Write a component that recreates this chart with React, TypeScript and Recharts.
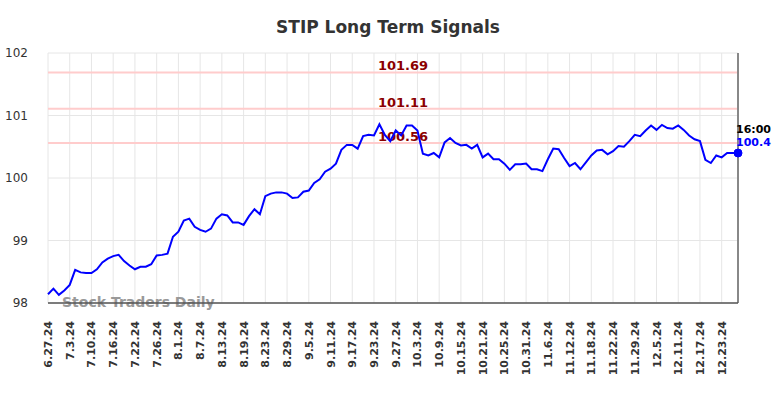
import React from 'react';
import {
  LineChart, Line, XAxis, YAxis, CartesianGrid, ReferenceLine, ReferenceDot, Customized,
} from 'recharts';

const dates = [
  '6.27.24', '6.28.24',
  '7.1.24', '7.2.24', '7.3.24', '7.5.24', '7.8.24', '7.9.24', '7.10.24', '7.11.24', '7.12.24', '7.15.24', '7.16.24',
  '7.17.24', '7.18.24', '7.19.24', '7.22.24', '7.23.24', '7.24.24', '7.25.24', '7.26.24', '7.29.24', '7.30.24', '7.31.24',
  '8.1.24', '8.2.24', '8.5.24', '8.6.24', '8.7.24', '8.8.24', '8.9.24', '8.12.24', '8.13.24', '8.14.24', '8.15.24',
  '8.16.24', '8.19.24', '8.20.24', '8.21.24', '8.22.24', '8.23.24', '8.26.24', '8.27.24', '8.28.24', '8.29.24', '8.30.24',
  '9.3.24', '9.4.24', '9.5.24', '9.6.24', '9.9.24', '9.10.24', '9.11.24', '9.12.24', '9.13.24', '9.16.24', '9.17.24',
  '9.18.24', '9.19.24', '9.20.24', '9.23.24', '9.24.24', '9.25.24', '9.26.24', '9.27.24', '9.30.24',
  '10.1.24', '10.2.24', '10.3.24', '10.4.24', '10.7.24', '10.8.24', '10.9.24', '10.10.24', '10.11.24', '10.14.24',
  '10.15.24', '10.16.24', '10.17.24', '10.18.24', '10.21.24', '10.22.24', '10.23.24', '10.24.24', '10.25.24',
  '10.28.24', '10.29.24', '10.30.24', '10.31.24',
  '11.1.24', '11.4.24', '11.5.24', '11.6.24', '11.7.24', '11.8.24', '11.11.24', '11.12.24', '11.13.24', '11.14.24',
  '11.15.24', '11.18.24', '11.19.24', '11.20.24', '11.21.24', '11.22.24', '11.25.24', '11.26.24', '11.27.24', '11.29.24',
  '12.2.24', '12.3.24', '12.4.24', '12.5.24', '12.6.24', '12.9.24', '12.10.24', '12.11.24', '12.12.24', '12.13.24',
  '12.16.24', '12.17.24', '12.18.24', '12.19.24', '12.20.24', '12.23.24', '12.24.24', '12.26.24', '12.27.24',
];

const prices = [
  98.14, 98.23, 98.13, 98.20, 98.29, 98.53, 98.49, 98.48, 98.48, 98.54,
  98.65, 98.71, 98.75, 98.77, 98.67, 98.60, 98.54, 98.58, 98.58, 98.62,
  98.76, 98.77, 98.79, 99.06, 99.14, 99.32, 99.35, 99.22, 99.17, 99.14,
  99.19, 99.35, 99.42, 99.40, 99.29, 99.29, 99.25, 99.39, 99.50, 99.42,
  99.71, 99.75, 99.77, 99.77, 99.75, 99.68, 99.69, 99.78, 99.80, 99.92,
  99.98, 100.10, 100.15, 100.23, 100.45, 100.53, 100.53, 100.47, 100.67, 100.69,
  100.68, 100.86, 100.69, 100.59, 100.76, 100.68, 100.84, 100.84, 100.76, 100.39,
  100.36, 100.40, 100.33, 100.57, 100.64, 100.56, 100.52, 100.53, 100.47, 100.53,
  100.33, 100.39, 100.30, 100.30, 100.23, 100.13, 100.22, 100.22, 100.23, 100.14,
  100.14, 100.11, 100.30, 100.47, 100.46, 100.32, 100.19, 100.24, 100.14, 100.25,
  100.36, 100.44, 100.45, 100.38, 100.43, 100.51, 100.50, 100.59, 100.69, 100.67,
  100.76, 100.84, 100.77, 100.85, 100.80, 100.79, 100.84, 100.77, 100.68, 100.62,
  100.59, 100.29, 100.24, 100.36, 100.33, 100.40, 100.40, 100.40,
];

const yTicks = [98, 99, 100, 101, 102];
const signalLevels = [101.69, 101.11, 100.56];
const lastLabel = '16:00';
const lastValue = 100.4;

const data = dates.map((date, i) => ({ date, price: prices[i] }));
const FONT = '"DejaVu Sans", sans-serif';

const DateTick = ({ x, y, payload }: any) => (
  <text
    transform={`translate(${x},${y + 16}) rotate(-90)`}
    textAnchor="end"
    dy={4}
    fontSize={11}
    fontWeight="bold"
    fill="#333"
    fontFamily={FONT}
  >
    {payload.value}
  </text>
);

const SignalLabel = ({ viewBox, value }: any) => (
  <text
    x={viewBox.x + viewBox.width / 2 + 10}
    y={viewBox.y - 2}
    textAnchor="middle"
    fontSize={13}
    fontWeight="bold"
    fill="#8b0000"
    fontFamily={FONT}
  >
    {value}
  </text>
);

const LastLabel = ({ viewBox }: any) => {
  const cx = viewBox.x + viewBox.width / 2;
  const cy = viewBox.y + viewBox.height / 2;
  return (
    <g fontFamily={FONT} fontWeight="bold" fontSize={11}>
      <text x={cx - 2} y={cy - 20} fill="#000">{lastLabel}</text>
      <text x={cx - 2} y={cy - 7} fill="#0000ff">{lastValue}</text>
    </g>
  );
};

const Watermark = () => (
  <text x={62} y={307} fontSize={14} fontWeight="bold" fill="#999" fontFamily={FONT}>
    Stock Traders Daily
  </text>
);

export default function App() {
  return (
    <div style={{ position: 'absolute', left: 0, top: 0, width: 784, height: 398, background: '#fff' }}>
      <div
        style={{
          position: 'absolute', top: 17, left: 0, width: 776, textAlign: 'center',
          fontFamily: FONT, fontWeight: 'bold', fontSize: 17, color: '#333',
        }}
      >
        STIP Long Term Signals
      </div>
      <LineChart width={784} height={398} data={data} margin={{ top: 53, right: 46, bottom: 65, left: 0 }}>
        <CartesianGrid stroke="#e6e6e6" strokeWidth={1} />
        <Customized component={Watermark} />
        <XAxis
          dataKey="date"
          interval={3}
          height={30}
          tick={<DateTick />}
          tickLine={false}
          tickSize={0}
          axisLine={{ stroke: '#555', strokeWidth: 1.5 }}
        />
        <YAxis
          domain={[98, 102]}
          ticks={yTicks}
          width={48}
          tickLine={false}
          axisLine={false}
          tickMargin={14}
          tick={{ fontSize: 12, fill: '#333', fontFamily: FONT }}
        />
        {signalLevels.map((lvl) => (
          <ReferenceLine
            key={lvl}
            y={lvl}
            stroke="#ffcccc"
            strokeWidth={2}
            label={<SignalLabel value={lvl.toFixed(2)} />}
          />
        ))}
        <ReferenceLine x={dates[dates.length - 1]} stroke="#888" strokeWidth={2} />
        <Line
          type="linear"
          dataKey="price"
          stroke="#0000ff"
          strokeWidth={2}
          dot={false}
          isAnimationActive={false}
        />
        <ReferenceDot
          x={dates[dates.length - 1]}
          y={lastValue}
          r={4}
          fill="#0000ff"
          stroke="#0000ff"
          label={<LastLabel />}
        />
      </LineChart>
    </div>
  );
}
